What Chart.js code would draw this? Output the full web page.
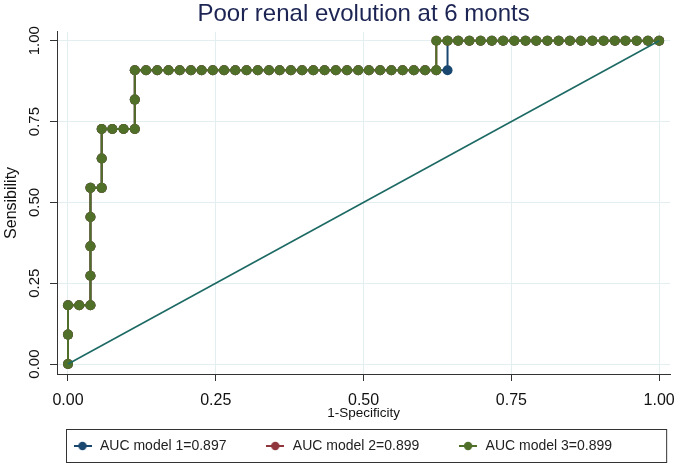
<!DOCTYPE html>
<html>
<head>
<meta charset="utf-8">
<title>Poor renal evolution at 6 monts</title>
<script src="https://cdn.jsdelivr.net/npm/chart.js@4.4.1/dist/chart.umd.min.js"></script>
<style>
  body { margin: 0; background: #fff; }
  #wrap { width: 685px; height: 467px; }
</style>
</head>
<body>
<div id="wrap"><canvas id="rocChart" width="685" height="467"></canvas></div>
<script>
// ROC points: 1-Specificity and Sensibility
const model1Fpr = [0, 0, 0, 0.019, 0.038, 0.038, 0.038, 0.038, 0.038, 0.057, 0.057, 0.057, 0.075, 0.094, 0.113, 0.113, 0.113,
    0.132, 0.151, 0.170, 0.189, 0.208, 0.226, 0.245, 0.264, 0.283, 0.302, 0.321, 0.340, 0.358, 0.377, 0.396, 0.415, 0.434,
    0.453, 0.472, 0.491, 0.509, 0.528, 0.547, 0.566, 0.585, 0.604, 0.623, 0.642, 0.642,
    0.660, 0.679, 0.698, 0.717, 0.736, 0.755, 0.774, 0.792, 0.811, 0.830, 0.849, 0.868, 0.887, 0.906, 0.925, 0.943, 0.962, 0.981, 1];
const model1Sens = [0, 0.091, 0.182, 0.182, 0.182, 0.273, 0.364, 0.455, 0.545, 0.545, 0.636, 0.727, 0.727, 0.727, 0.727, 0.818, 0.909,
    0.909, 0.909, 0.909, 0.909, 0.909, 0.909, 0.909, 0.909, 0.909, 0.909, 0.909, 0.909, 0.909, 0.909, 0.909, 0.909, 0.909,
    0.909, 0.909, 0.909, 0.909, 0.909, 0.909, 0.909, 0.909, 0.909, 0.909, 0.909, 1,
    1, 1, 1, 1, 1, 1, 1, 1, 1, 1, 1, 1, 1, 1, 1, 1, 1, 1, 1];

const model3Fpr = [0, 0, 0, 0.019, 0.038, 0.038, 0.038, 0.038, 0.038, 0.057, 0.057, 0.057, 0.075, 0.094, 0.113, 0.113, 0.113,
    0.132, 0.151, 0.170, 0.189, 0.208, 0.226, 0.245, 0.264, 0.283, 0.302, 0.321, 0.340, 0.358, 0.377, 0.396, 0.415, 0.434,
    0.453, 0.472, 0.491, 0.509, 0.528, 0.547, 0.566, 0.585, 0.604, 0.623, 0.623,
    0.642, 0.660, 0.679, 0.698, 0.717, 0.736, 0.755, 0.774, 0.792, 0.811, 0.830, 0.849, 0.868, 0.887, 0.906, 0.925, 0.943, 0.962, 0.981, 1];
const model3Sens = [0, 0.091, 0.182, 0.182, 0.182, 0.273, 0.364, 0.455, 0.545, 0.545, 0.636, 0.727, 0.727, 0.727, 0.727, 0.818, 0.909,
    0.909, 0.909, 0.909, 0.909, 0.909, 0.909, 0.909, 0.909, 0.909, 0.909, 0.909, 0.909, 0.909, 0.909, 0.909, 0.909, 0.909,
    0.909, 0.909, 0.909, 0.909, 0.909, 0.909, 0.909, 0.909, 0.909, 0.909, 1,
    1, 1, 1, 1, 1, 1, 1, 1, 1, 1, 1, 1, 1, 1, 1, 1, 1, 1, 1, 1];

// model 2 sits exactly under model 3 in the picture
const model2Fpr = model3Fpr.slice();
const model2Sens = model3Sens.slice();

const refFpr = [0, 1];
const refSens = [0, 1];

const legendLabels = ['AUC model 1=0.897', 'AUC model 2=0.899', 'AUC model 3=0.899'];
const xTickValues = [0, 0.25, 0.5, 0.75, 1];
const xTickLabels = ['0.00', '0.25', '0.50', '0.75', '1.00'];
const yTickValues = [0, 0.25, 0.5, 0.75, 1];
const yTickLabels = ['0.00', '0.25', '0.50', '0.75', '1.00'];

const colors = ['#1a476f', '#90353b', '#50702a'];
const refColor = '#1d6a64';
const gridColor = '#e3eef0';
const axisColor = '#333333';
const fontFamily = '"Liberation Sans", Arial, sans-serif';

function toPoints(xs, ys) {
    return xs.map((x, i) => ({ x: x, y: ys[i] }));
}

// little line-with-dot marker for the legend
function legendMarker(color) {
    const c = document.createElement('canvas');
    c.width = 18;
    c.height = 10;
    const g = c.getContext('2d');
    g.strokeStyle = color;
    g.lineWidth = 2;
    g.beginPath();
    g.moveTo(0, 5);
    g.lineTo(18, 5);
    g.stroke();
    g.fillStyle = color;
    g.beginPath();
    g.arc(9, 5, 4.2, 0, Math.PI * 2);
    g.fill();
    return c;
}

function modelDataset(i, xs, ys) {
    return {
        label: legendLabels[i],
        data: toPoints(xs, ys),
        borderColor: colors[i],
        backgroundColor: colors[i],
        borderWidth: 2,
        pointRadius: 5,
        pointHoverRadius: 5,
        pointBorderWidth: 0,
        showLine: true,
        order: 4 - i
    };
}

const legendBoxPlugin = {
    id: 'legendBox',
    afterDraw(chart) {
        const lg = chart.legend;
        if (!lg || !lg.legendHitBoxes.length) return;
        const hb = lg.legendHitBoxes[0];
        const cy = hb.top + hb.height / 2;
        const ctx = chart.ctx;
        ctx.save();
        ctx.strokeStyle = axisColor;
        ctx.lineWidth = 1;
        ctx.strokeRect(chart.chartArea.left + 9.5, Math.round(cy - 17) + 0.5,
            chart.chartArea.right - chart.chartArea.left - 13, 33);
        ctx.restore();
    }
};

const ctx = document.getElementById('rocChart').getContext('2d');
new Chart(ctx, {
    type: 'scatter',
    data: {
        datasets: [
            modelDataset(0, model1Fpr, model1Sens),
            modelDataset(1, model2Fpr, model2Sens),
            modelDataset(2, model3Fpr, model3Sens),
            {
                label: 'reference',
                data: toPoints(refFpr, refSens),
                borderColor: refColor,
                borderWidth: 1.6,
                pointRadius: 0,
                showLine: true,
                order: 0
            }
        ]
    },
    options: {
        responsive: false,
        animation: false,
        devicePixelRatio: 1,
        layout: { padding: { left: 0, right: 14, top: 0, bottom: 4 } },
        plugins: {
            title: {
                display: true,
                text: 'Poor renal evolution at 6 monts',
                color: '#1c2454',
                fullSize: false,
                font: { family: fontFamily, size: 24, weight: 'normal' },
                padding: { top: 0, bottom: 3 }
            },
            legend: {
                position: 'bottom',
                align: 'start',
                fullSize: false,
                labels: {
                    usePointStyle: true,
                    pointStyleWidth: 21,
                    padding: 15,
                    color: '#222',
                    font: { family: fontFamily, size: 14 },
                    filter: item => item.datasetIndex < 3,
                    sort: (a, b) => a.datasetIndex - b.datasetIndex,
                    generateLabels(chart) {
                        const items = Chart.defaults.plugins.legend.labels.generateLabels(chart);
                        items.forEach(item => {
                            if (item.datasetIndex < 3) {
                                item.pointStyle = legendMarker(colors[item.datasetIndex]);
                                item.text = item.text + '      ';
                            }
                        });
                        return items;
                    }
                }
            },
            tooltip: { enabled: false }
        },
        scales: {
            x: {
                type: 'linear',
                min: -0.0186,
                max: 1.0186,
                afterBuildTicks: s => { s.ticks = xTickValues.map(v => ({ value: v })); },
                afterFit: s => { s.height = 50; },
                ticks: {
                    color: '#111',
                    padding: 10,
                    maxRotation: 0,
                    font: { family: fontFamily, size: 16 },
                    callback: (v, i) => xTickLabels[i]
                },
                grid: { color: gridColor, lineWidth: 1, tickColor: axisColor, tickLength: 7 },
                border: { display: true, color: axisColor, width: 1 },
                title: {
                    display: true,
                    text: '1-Specificity',
                    color: '#111',
                    font: { family: fontFamily, size: 13.5 },
                    padding: { top: 0, bottom: 3 }
                }
            },
            y: {
                type: 'linear',
                min: -0.0308,
                max: 1.0277,
                afterBuildTicks: s => { s.ticks = yTickValues.map(v => ({ value: v })); },
                afterFit: s => { s.width = 57; },
                ticks: {
                    color: '#111',
                    padding: 1,
                    minRotation: 90,
                    maxRotation: 90,
                    crossAlign: 'center',
                    font: { family: fontFamily, size: 15 },
                    callback: (v, i) => yTickLabels[i]
                },
                grid: { color: gridColor, lineWidth: 1, tickColor: axisColor, tickLength: 7 },
                border: { display: true, color: axisColor, width: 1 },
                title: {
                    display: true,
                    text: 'Sensibility',
                    color: '#111',
                    font: { family: fontFamily, size: 16 },
                    padding: { top: 2, bottom: 0 }
                }
            }
        }
    },
    plugins: [legendBoxPlugin]
});
</script>
</body>
</html>
